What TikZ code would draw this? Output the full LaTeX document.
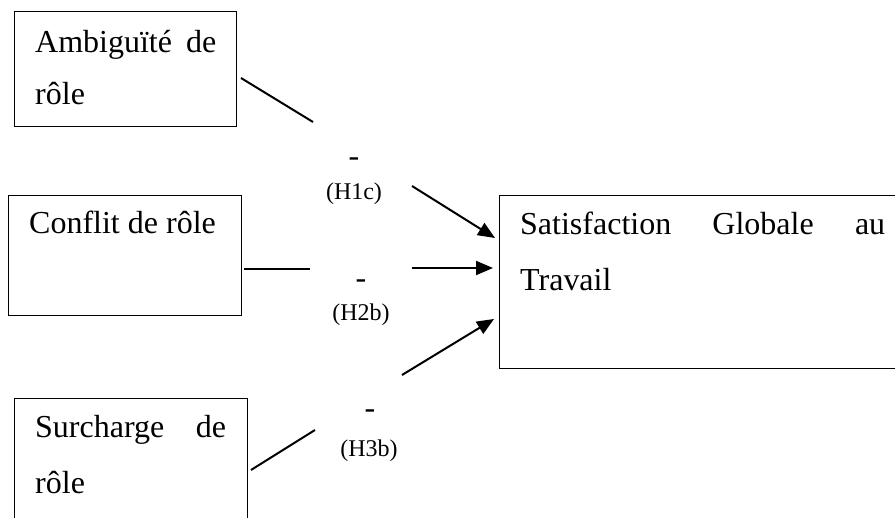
\documentclass[tikz,border=0pt]{standalone}
\usepackage{fontspec}
\setmainfont{Liberation Serif}
\usetikzlibrary{arrows.meta}
\begin{document}
\begin{tikzpicture}[x=1pt,y=-1pt,
  box/.style={draw, line width=1.2pt, inner sep=0pt, anchor=north west},
  txtline/.style={anchor=base west, inner sep=0pt, font=\fontsize{32}{38}\selectfont},
  sign/.style={anchor=base, inner sep=0pt, font=\fontsize{32}{38}\selectfont},
  hyp/.style={anchor=base, inner sep=0pt, font=\fontsize{24}{28}\selectfont},
  link/.style={line width=2pt},
  arrow/.style={link, -{Triangle[length=17pt,width=14pt]}}]

\useasboundingbox (0,0) rectangle (895,518);
\clip (0,0) rectangle (895,518);

% variable boxes
\node[box, minimum width=222pt, minimum height=115pt] (amb) at (14,11) {};
\node[box, minimum width=233pt, minimum height=120pt] (con) at (8,195) {};
\node[box, minimum width=233pt, minimum height=140pt] (sur) at (14,398) {};
\node[box, minimum width=420pt, minimum height=173pt] (sat) at (499,195) {};

% box texts, justified lines
\node[txtline] (amb-l1) at (35,53) {\makebox[181pt][s]{Ambiguïté de}};
\node[txtline] (amb-l2) at (35,105) {rôle};
\node[txtline] (con-l1) at (29,234) {Conflit de rôle};
\node[txtline] (sur-l1) at (35,438) {\makebox[191pt][s]{Surcharge de}};
\node[txtline] (sur-l2) at (35,494) {rôle};
\node[txtline] (sat-l1) at (520,235) {\makebox[365pt][s]{Satisfaction Globale au}};
\node[txtline] (sat-l2) at (520,291) {Travail};

% signs and hypothesis labels
\node[sign] (s1) at (354,167) {-};
\node[hyp]  (h1) at (354,200) {(H1c)};
\node[sign] (s2) at (361,289) {-};
\node[hyp]  (h2) at (361,321) {(H2b)};
\node[sign] (s3) at (370,419) {-};
\node[hyp]  (h3) at (369,457) {(H3b)};

% connector end points
\coordinate (amb-out) at (241,78);
\coordinate (amb-gap) at (313,122);
\coordinate (amb-in)  at (412,186);
\coordinate (sat-a)   at (495,238);
\coordinate (con-out) at (244,269);
\coordinate (con-gap) at (310,269);
\coordinate (con-in)  at (412,268);
\coordinate (sat-c)   at (493,268);
\coordinate (sur-out) at (251,470);
\coordinate (sur-gap) at (315,430);
\coordinate (sur-in)  at (402,375);
\coordinate (sat-s)   at (494,319);

% connectors
\draw[link]  (amb-out) -- (amb-gap);
\draw[arrow] (amb-in) -- (sat-a);
\draw[link]  (con-out) -- (con-gap);
\draw[arrow] (con-in) -- (sat-c);
\draw[link]  (sur-out) -- (sur-gap);
\draw[arrow] (sur-in) -- (sat-s);
\end{tikzpicture}
\end{document}
